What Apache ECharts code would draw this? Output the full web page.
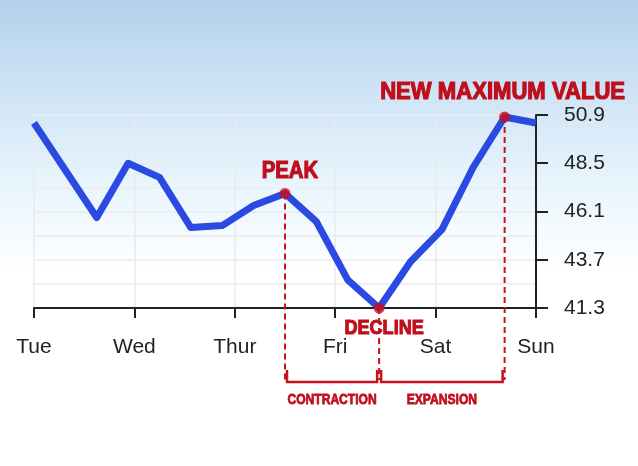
<!DOCTYPE html>
<html>
<head>
<meta charset="utf-8">
<script src="https://cdn.jsdelivr.net/npm/echarts@6/dist/echarts.min.js"></script>
<style>
html,body{margin:0;padding:0;background:#fff;}
#c{width:638px;height:466px;}
</style>
</head>
<body>
<div id="c"></div>
<script>
// ---- data ----
var dayLabels = ['Tue', 'Wed', 'Thur', 'Fri', 'Sat', 'Sun'];
var yTicks = [41.3, 43.7, 46.1, 48.5, 50.9];
// position of each reading, in sixteenths of the Tue–Sun span
var steps = [0, 2, 3, 4, 5, 6, 7, 8, 9, 10, 11, 12, 13, 14, 15, 16];
var values = [50.5, 45.8, 48.5, 47.8, 45.3, 45.4, 46.4, 47.0, 45.6, 42.7, 41.3, 43.6, 45.2, 48.3, 50.8, 50.5];
// annotated readings (indices into the arrays above)
var peakIdx = 7, declineIdx = 10, maxIdx = 14;
var annText = { peak: 'PEAK', decline: 'DECLINE', max: 'NEW MAXIMUM VALUE', contraction: 'CONTRACTION', expansion: 'EXPANSION' };

var span = dayLabels.length - 1;
function xOf(i) { return steps[i] * span / 16; }
var lineData = values.map(function (v, i) { return [xOf(i), v]; });
var dotData = [peakIdx, declineIdx, maxIdx].map(function (i) { return [xOf(i), values[i]]; });

var chart = echarts.init(document.getElementById('c'), null, { renderer: 'canvas' });
var RED = '#c8101e';
var TXT_RED = '#c00e1c';
var textFont = '"Liberation Sans", Arial, sans-serif';
var boldFont = '"Liberation Sans", Arial, sans-serif';

chart.setOption({
  animation: false,
  backgroundColor: {
    type: 'linear', x: 0, y: 0, x2: 0, y2: 1,
    colorStops: [
      { offset: 0, color: '#b3d1ec' },
      { offset: 0.2, color: '#cfe4f5' },
      { offset: 0.4, color: '#e9f5fd' },
      { offset: 0.58, color: '#ffffff' },
      { offset: 1, color: '#ffffff' }
    ]
  },
  grid: { left: 34, right: 102, top: 115, bottom: 158 },
  xAxis: {
    type: 'value', min: 0, max: span, interval: 1,
    axisLine: { show: true, lineStyle: { color: '#222', width: 2 } },
    axisTick: { show: true, length: 10, lineStyle: { color: '#222', width: 2 } },
    axisLabel: {
      formatter: function (v) { return dayLabels[Math.round(v)]; },
      color: '#222', fontSize: 21, margin: 29, fontFamily: textFont
    },
    splitLine: { show: true, lineStyle: { color: '#e6ebf0', width: 1.5 } }
  },
  yAxis: [{
    type: 'value', position: 'right', min: yTicks[0], max: yTicks[yTicks.length - 1],
    axisLine: { show: true, onZero: false, lineStyle: { color: '#222', width: 2 } },
    axisTick: { show: true, length: 12, customValues: yTicks, lineStyle: { color: '#222', width: 2 } },
    axisLabel: {
      customValues: yTicks, color: '#222', fontSize: 21, margin: 28, fontFamily: textFont,
      formatter: function (v) { return v.toFixed(1); }
    },
    splitLine: { show: false }
  }, {
    type: 'value', min: 0, max: 8, interval: 1, show: true,
    axisLine: { show: false }, axisTick: { show: false }, axisLabel: { show: false },
    splitLine: { show: true, lineStyle: { color: '#e9edf1', width: 1.5 } }
  }],
  series: [{
    type: 'line', data: lineData, showSymbol: false, symbol: 'none',
    lineStyle: { color: '#2a4ae2', width: 7, join: 'round' }, z: 3
  }, {
    type: 'scatter', data: dotData, symbolSize: 11,
    itemStyle: { color: '#cc0c1c' }, z: 5
  }]
});

function px(i) { return chart.convertToPixel({ gridIndex: 0 }, [xOf(i), values[i]]); }
var pPeak = px(peakIdx), pDec = px(declineIdx), pMax = px(maxIdx);
var axisY = chart.convertToPixel({ yAxisIndex: 0 }, yTicks[0]);
var brY = axisY + 74, brUp = 12;

function dash(p) {
  return { type: 'line', z: 2, shape: { x1: p[0], y1: p[1], x2: p[0], y2: brY - 2 },
    style: { stroke: RED, lineWidth: 2, lineDash: [6, 4] } };
}
function bracket(x1, x2) {
  return { type: 'polyline', z: 2, shape: { points: [[x1, brY - brUp], [x1, brY], [x2, brY], [x2, brY - brUp]] },
    style: { stroke: RED, lineWidth: 2.5, fill: null } };
}
function label(txt, x, y, size, sx, sw) {
  return { type: 'text', z: 6, x: x, y: y, scaleX: sx, scaleY: 1,
    style: { text: txt, fill: TXT_RED, stroke: TXT_RED, lineWidth: sw,
      font: 'bold ' + size + 'px ' + boldFont, align: 'center', verticalAlign: 'middle' } };
}

chart.setOption({
  graphic: [
    dash(pPeak), dash(pDec), dash(pMax),
    bracket(pPeak[0] + 2, pDec[0] - 2),
    bracket(pDec[0] + 2, pMax[0] - 2),
    label(annText.peak, pPeak[0] + 5, pPeak[1] - 22, 24, 0.85, 1.2),
    label(annText.max, pMax[0] - 2, pMax[1] - 25, 24, 0.92, 1.2),
    label(annText.decline, pDec[0] + 5, pDec[1] + 20, 21, 0.86, 1.1),
    label(annText.contraction, (pPeak[0] + pDec[0]) / 2, brY + 18, 15.5, 0.78, 0.8),
    label(annText.expansion, (pDec[0] + pMax[0]) / 2, brY + 18, 15.5, 0.78, 0.8)
  ]
});
</script>
</body>
</html>
